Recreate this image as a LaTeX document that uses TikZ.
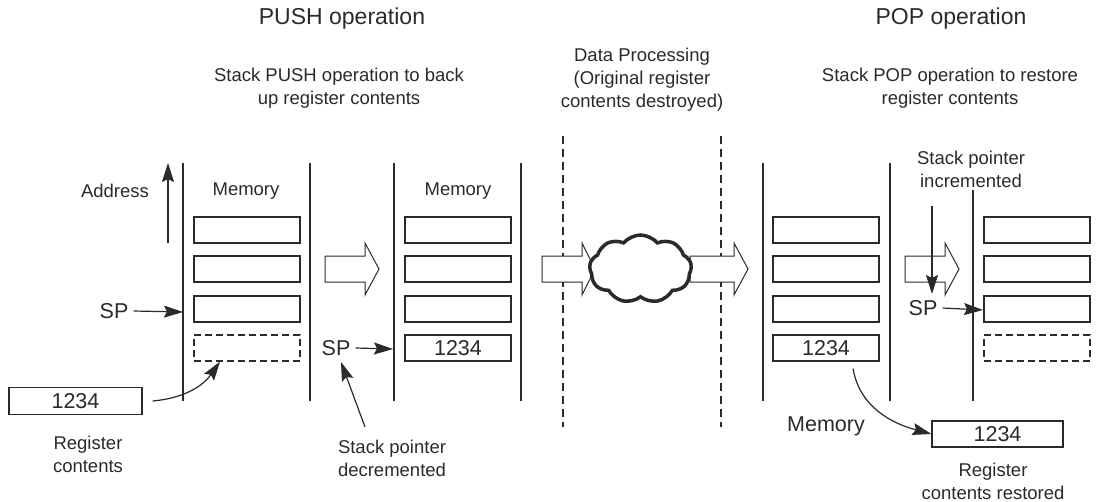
\documentclass[tikz,border=0pt]{standalone}
\usepackage{fontspec}
\setmainfont{Liberation Sans}
\usetikzlibrary{arrows.meta,shapes.symbols}
\definecolor{ink}{HTML}{2A2A2A}
\begin{document}
\begin{tikzpicture}[x=1pt,y=-1pt,
  every node/.style={text=ink},
  cell/.style={draw=ink,line width=1.2pt,minimum width=106pt,minimum height=26pt,inner sep=0pt,font=\fontsize{21.5}{24}\selectfont},
  dcell/.style={cell,dashed,dash pattern=on 7pt off 4pt},
  reg/.style={draw=ink,line width=1.2pt,minimum width=133pt,minimum height=27pt,inner sep=0pt,font=\fontsize{21.5}{24}\selectfont},
  txt/.style={font=\fontsize{18.5}{23}\selectfont,align=center,inner sep=0pt},
  big/.style={font=\fontsize{21.5}{24}\selectfont,inner sep=0pt},
  ttl/.style={font=\fontsize{23}{26}\selectfont,inner sep=0pt},
  arr/.style={draw=ink,line width=1.2pt,arrows={-Stealth[length=19pt,width=12pt,inset=3pt]}},
  vl/.style={draw=ink,line width=1.2pt},
  dl/.style={draw=ink,line width=1.2pt,dash pattern=on 8pt off 5pt},
  hollow/.style={draw=ink,line width=1pt,fill=white}
]
\useasboundingbox (0,0) rectangle (1097,501);

% titles
\node[ttl] (t1) at (342,19) {PUSH operation};
\node[ttl] (t2) at (951,19) {POP operation};
\node[txt] (s1) at (339,88) {Stack PUSH operation to back\\up register contents};
\node[txt] (s2) at (642,80) {Data Processing\\(Original register\\contents destroyed)};
\node[txt] (s3) at (950,88) {Stack POP operation to restore\\register contents};

% vertical lines
\draw[vl] (183,163) -- (183,401);
\draw[vl] (310,163) -- (310,401);
\draw[vl] (394,163) -- (394,401);
\draw[vl] (521,163) -- (521,401);
\draw[vl] (763,163) -- (763,401);
\draw[vl] (890,163) -- (890,401);
\draw[vl] (973,190) -- (973,401);
\draw[dl] (563,136) -- (563,427);
\draw[dl] (721,136) -- (721,427);

% column 1
\node[txt] (m1) at (246,191) {Memory};
\node[cell] (a1) at (247,230) {};
\node[cell] (a2) at (247,269) {};
\node[cell] (a3) at (247,309) {};
\node[dcell] (a4) at (247,348) {};
\node[txt] (addr) at (115,191) {Address};
\coordinate (ab) at (168,243);
\coordinate (at) at (168,163);
\draw[arr] (ab) -- (at);
\node[big] (sp1) at (114,311) {SP};
\coordinate (sp1t) at (183,312);
\draw[arr] ([xshift=5pt]sp1.east) -- (sp1t);
\node[reg] (r1) at (75.5,401) {1234};
\node[txt] (rl1) at (88,454) {Register\\contents};
\draw[arr] ([xshift=10pt]r1.east) to[out=5,in=-125] ([xshift=-27pt]a4.south);

% arrow 1
\draw[hollow] (325,256) -- (365,256) -- (365,243) -- (379,269) -- (365,295) -- (365,282) -- (325,282) -- cycle;

% column 2
\node[txt] (m2) at (458,191) {Memory};
\node[cell] (b1) at (458,230) {};
\node[cell] (b2) at (458,269) {};
\node[cell] (b3) at (458,309) {};
\node[cell] (b4) at (458,348) {1234};
\node[big] (sp2) at (336,348) {SP};
\coordinate (sp2t) at (393,349);
\draw[arr] ([xshift=5pt]sp2.east) -- (sp2t);
\node[txt] (dec) at (392,458) {Stack pointer\\decremented};
\coordinate (decs) at (365,427);
\coordinate (dect) at (341,362);
\draw[arr] (decs) -- (dect);

% arrow 3 (behind cloud)
\draw[hollow] (690,256) -- (734,256) -- (734,243) -- (748,269) -- (734,295) -- (734,282) -- (690,282) -- cycle;
% arrow 2
\draw[hollow] (542,256) -- (582,256) -- (582,243) -- (595,269) -- (582,295) -- (582,282) -- (542,282) -- cycle;
% cloud
\node[cloud,cloud puffs=9,cloud puff arc=100,aspect=1.7,draw=ink,line width=3.5pt,fill=white,minimum width=102pt,minimum height=68pt,inner sep=0pt] (cl) at (640.5,269) {};

% column 3
\node[cell] (c1) at (826,230) {};
\node[cell] (c2) at (826,269) {};
\node[cell] (c3) at (826,309) {};
\node[cell] (c4) at (826,348) {1234};
\node[big] (m3) at (826,426) {Memory};
\node[reg,minimum width=131pt,minimum height=26pt] (r2) at (997.5,434) {1234};
\node[txt] (rl2) at (993,481) {Register\\contents restored};
\draw[arr] ([xshift=27pt,yshift=-7pt]c4.south) to[out=-80,in=165] (r2.west);

% arrow 4
\draw[hollow] (905,256) -- (945,256) -- (945,243) -- (959,269) -- (945,295) -- (945,282) -- (905,282) -- cycle;

% column 4
\node[cell] (d1) at (1037,230) {};
\node[cell] (d2) at (1037,269) {};
\node[cell] (d3) at (1037,309) {};
\node[dcell] (d4) at (1037,348) {};
\node[txt] (inc) at (971,169) {Stack pointer\\incremented};
\coordinate (incs) at (932,206);
\coordinate (inct) at (932,294);
\draw[arr] (incs) -- (inct);
\node[big] (sp3) at (923,308) {SP};
\coordinate (sp3t) at (983,310);
\draw[arr] ([xshift=5pt]sp3.east) -- (sp3t);
\end{tikzpicture}
\end{document}
